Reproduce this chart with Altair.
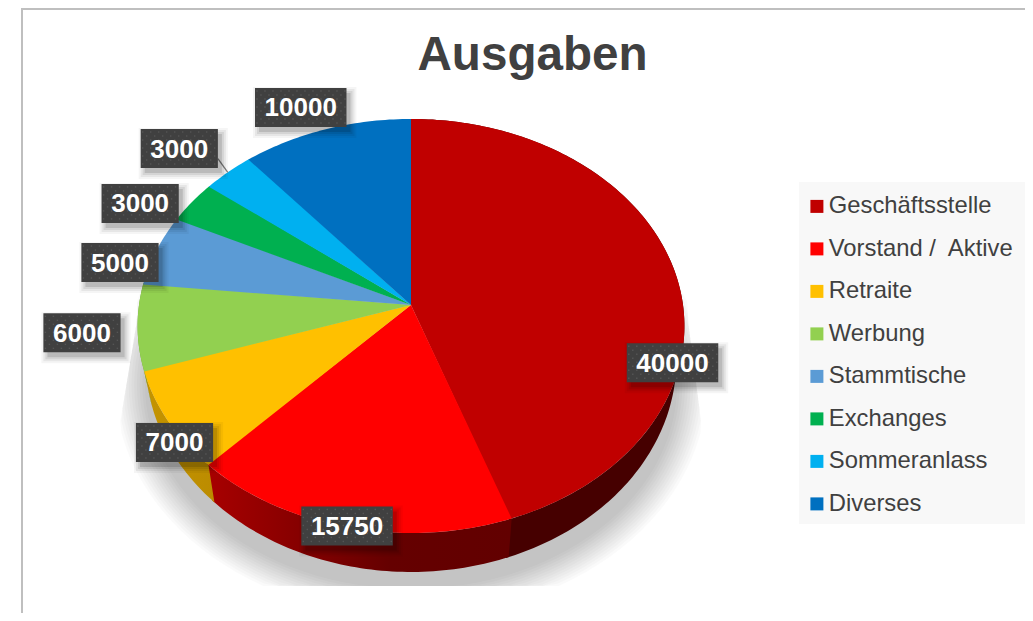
import math
import altair as alt
import pandas as pd

categories = ["Geschäftsstelle", "Vorstand /\u00a0 Aktive", "Retraite", "Werbung",
              "Stammtische", "Exchanges", "Sommeranlass", "Diverses"]
values = [40000, 15750, 7000, 6000, 5000, 3000, 3000, 10000]
colors = ["#C00000", "#FF0000", "#FFC000", "#92D050", "#5B9BD5", "#00B050", "#00B0F0", "#0070C0"]
title_text = "Ausgaben"

# label box offsets from the rim point of each slice
label_dx = [-2, -1, 6.5, -55.6, -36.3, -51.5, -48.5, -25.1]
label_dy = [92, -1.5, 21.6, 5.2, 11.8, 1, -23.8, -21.8]

W, H, TOP = 1017, 533, 72
KK = 0.1014
total = sum(values)


def proj(deg, cx=411, cy=305, f=272, g=204.9):
    t = math.radians(deg)
    s, c = math.sin(t), math.cos(t)
    den = 1 + KK * c
    return cx + f * s / den, cy - g * c / den


def bottom(deg):
    return proj(deg, 411, 338.5, 264, 209.8)


starts, ends = [], []
acc = 0
for v in values:
    starts.append(acc / total * 360)
    acc += v
    ends.append(acc / total * 360)

sx = alt.Scale(domain=[8, 1025], nice=False, zero=False)
sy = alt.Scale(domain=[613, 80], nice=False, zero=False)
xs = alt.X("x:Q", axis=None, scale=sx)
ys = alt.Y("y:Q", axis=None, scale=sy)


def arange(a, b, step=1.0):
    n = max(2, int(abs(b - a) / step) + 1)
    return [a + (b - a) * i / (n - 1) for i in range(n)]


def poly(points, **extra):
    return pd.DataFrame([{"x": p[0], "y": p[1], "i": i, **extra} for i, p in enumerate(points)])


def filled(df, **kw):
    return alt.Chart(df).mark_line(strokeWidth=0, **kw).encode(x=xs, y=ys, order=alt.Order("i:Q"))


layers = []

# frame
frame = pd.DataFrame({"x": [22, 22], "x2": [22, 1025], "y": [8, 9], "y2": [613, 9]})
layers.append(alt.Chart(frame).mark_rule(color="#BFBFBF", strokeWidth=2).encode(
    x=xs, x2="x2:Q", y=ys, y2="y2:Q"))

# legend panel
panel = pd.DataFrame({"x": [799], "x2": [1025], "y": [182], "y2": [524]})
layers.append(alt.Chart(panel).mark_rect(color="#F8F8F8").encode(x=xs, x2="x2:Q", y=ys, y2="y2:Q"))

# soft shadow
N = 12


def clampp(x, y):
    y2 = min(y, 586)
    t = max(0, min(1, (y2 - 320) / 115))
    xmin = 137 - 19 * t
    xmax = 688 + 15 * t
    return max(xmin, min(xmax, x)), y2


for j in range(N):
    u = 1 - j / (N - 1)
    rx = 266 + 30 * u
    ry = 204 + 28 * u
    pts = []
    for a in arange(0, 360, 3):
        t = math.radians(a)
        pts.append(clampp(411 + rx * math.sin(t), 385 - ry * math.cos(t)))
    layers.append(filled(poly(pts), fill="#000000", fillOpacity=0.02))


def grad(stops):
    return alt.LinearGradient(gradient="linear", x1=0, y1=0, x2=1, y2=0,
                              stops=[alt.GradientStop(offset=o, color=c) for o, c in stops])


wall_fill = {
    0: "#460000",
    1: grad([(0, "#A80000"), (0.6, "#650000"), (1, "#620000")]),
    2: grad([(0, "#C49400"), (1, "#BC8C00")]),
    3: "#6FA238",
}
for idx, fill in wall_fill.items():
    # walls overlap a little; the next one is painted over, so no seam shows
    rng = arange(starts[idx], ends[idx] + 0.6)
    pts = [proj(d) for d in rng] + [bottom(d) for d in reversed(rng)]
    layers.append(filled(poly(pts), fill=fill))

# top faces
rows = []
for k, (name, a, b) in enumerate(zip(categories, starts, ends)):
    b2 = b if k == len(categories) - 1 else b + 0.25
    pts = [(411, 305)] + [proj(d) for d in arange(a, b2)]
    for i, p in enumerate(pts):
        rows.append({"x": p[0], "y": p[1], "i": i, "name": name})
top = pd.DataFrame(rows)
legend = alt.Legend(orient="none", legendX=797, legendY=114.5, title=None, symbolType="square",
                    symbolSize=169, symbolStrokeWidth=0, labelFont="Liberation Sans",
                    labelFontSize=23.8, labelColor="#404040", labelOffset=0, labelLimit=300,
                    rowPadding=17.5, padding=0)
layers.append(alt.Chart(top).mark_line(strokeWidth=0).encode(
    x=xs, y=ys, order=alt.Order("i:Q"),
    fill=alt.Fill("name:N", scale=alt.Scale(domain=categories, range=colors), legend=legend, sort=None),
))

# labels
lab = []
for i, (v, a, b) in enumerate(zip(values, starts, ends)):
    rx, ry = proj((a + b) / 2)
    cx, cy = rx + label_dx[i], ry + label_dy[i]
    w = len(str(v)) * 14.3 + 20
    lab.append({"x": cx - w / 2, "x2": cx + w / 2, "y": cy - 19.5, "y2": cy + 19.5,
                "cx": cx, "cy": cy, "rx": rx, "ry": ry, "text": str(v)})
lab = pd.DataFrame(lab)

# leader line of the seventh label
leader = lab.iloc[[6]].copy()
leader["lx"] = leader["x2"]
leader["ly"] = leader["cy"] + 10
layers.append(alt.Chart(leader).mark_rule(color="#7F7F7F", strokeWidth=1.3).encode(
    x=alt.X("lx:Q", axis=None, scale=sx), y=alt.Y("ly:Q", axis=None, scale=sy),
    x2="rx:Q", y2="ry:Q"))

for grow, op in [(6, 0.04), (4, 0.06), (2, 0.08), (0, 0.12)]:
    sh = lab.assign(x=lab.x + 4 - grow, x2=lab.x2 + 4 + grow, y=lab.y + 5 - grow, y2=lab.y2 + 5 + grow)
    layers.append(alt.Chart(sh).mark_rect(color="#000000", opacity=op).encode(
        x=xs, x2="x2:Q", y=ys, y2="y2:Q"))

layers.append(alt.Chart(lab).mark_rect(color="#404040").encode(x=xs, x2="x2:Q", y=ys, y2="y2:Q"))

dots = []
for _, r in lab.iterrows():
    yy, row = r.y + 3, 0
    while yy < r.y2 - 1:
        xx = r.x + (2 if row % 2 == 0 else 6)
        while xx < r.x2 - 1:
            dots.append({"x": xx, "y": yy})
            xx += 8
        yy += 4
        row += 1
layers.append(alt.Chart(pd.DataFrame(dots)).mark_point(
    shape="square", size=2, filled=True, color="#555555", opacity=1).encode(x=xs, y=ys))

layers.append(alt.Chart(lab).mark_text(
    font="Liberation Sans", fontWeight="bold", fontSize=26, color="#FFFFFF", baseline="middle",
    align="center", dy=1).encode(
    x=alt.X("cx:Q", axis=None, scale=sx), y=alt.Y("cy:Q", axis=None, scale=sy), text="text:N"))

chart = alt.layer(*layers).resolve_scale(x="shared", y="shared").properties(
    width=W, height=H,
    padding={"top": TOP, "left": 0, "right": 0, "bottom": 0},
    autosize=alt.AutoSizeParams(type="none"),
    title=alt.Title(title_text, font="Liberation Sans", fontSize=47.6, fontWeight="bold", color="#404040",
                    anchor="middle", frame="group", dx=16, offset=-73),
).configure_view(stroke=None)

chart.save("out.html", embed_options={"renderer": "svg", "actions": False})
